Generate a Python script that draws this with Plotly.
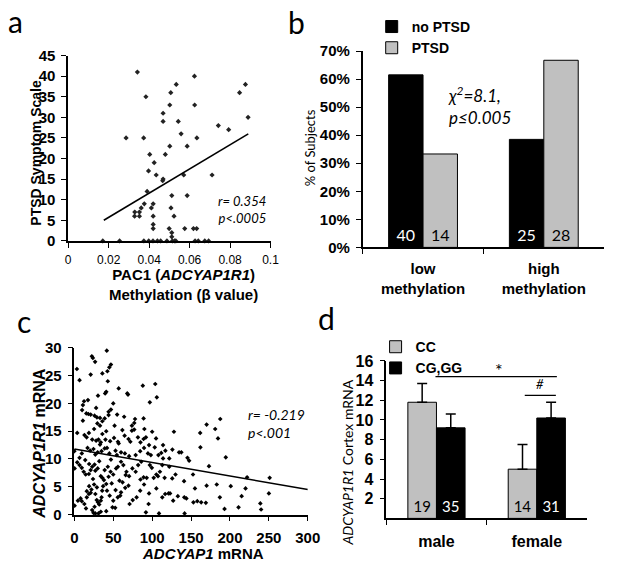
import plotly.graph_objects as go

W, H = 624, 572

# ---------------- Panel a: methylation vs PTSD symptom scale ----------------
a_x = [0.0342, 0.0624, 0.0534, 0.0876, 0.0507, 0.0847, 0.0384, 0.0502, 0.0625, 0.0469,
       0.0889, 0.0469, 0.0544, 0.0742, 0.0793, 0.0558, 0.0286, 0.0373, 0.0636, 0.0502,
       0.0588, 0.0403, 0.0480, 0.0425, 0.0397, 0.0435, 0.0571, 0.0711, 0.0469, 0.0467,
       0.0390, 0.0512, 0.0588, 0.0376, 0.0420, 0.0361, 0.0411, 0.0329, 0.0352, 0.0328,
       0.0352, 0.0420, 0.0420, 0.0420, 0.0508, 0.0523, 0.0499, 0.0512, 0.0512, 0.0576,
       0.0619, 0.0635,
       0.0171, 0.0254, 0.0374, 0.0398, 0.0419, 0.0441, 0.0457, 0.0488, 0.0515, 0.0526,
       0.0532, 0.0627, 0.0643, 0.0675, 0.0694]
a_y = [41, 40, 38, 38, 36, 36, 35, 33, 33, 31,
       30, 29, 29, 28, 27, 26, 25, 25, 25, 23,
       23, 21, 21, 19, 17, 16, 16, 16, 15, 14.6,
       12, 11, 11, 9, 9, 8, 8, 7, 7, 6,
       6, 6, 4, 3, 8, 6, 3, 2, 1, 3,
       3, 3,
       0, 0, 0, 0, 0, 0, 0, 0, 0, 0,
       0, 0, 0, 0, 0]
a_fit_x = [0.0176, 0.089]
a_fit_y = [5.0, 26.0]

# ---------------- Panel b: % of subjects by methylation ----------------
b_categories = ["low<br>methylation", "high<br>methylation"]
b_no_ptsd = [0.615, 0.385]
b_ptsd = [0.333, 0.667]
b_n_no_ptsd = ["40", "25"]
b_n_ptsd = ["14", "28"]

# ---------------- Panel c: ADCYAP1 vs ADCYAP1R1 mRNA ----------------
c_x = [3.3, 6.7, 22.5, 23.8, 26.7, 41.7, 47, 45, 42.5, 36, 21,
       43, 57, 41, 39.6, 30.4, 68, 69, 88, 104, 106, 97, 50, 12.5, 17.5, 11,
       10, 15.4, 18, 21, 26, 29, 33, 39, 44, 47, 55, 78, 89, 187.5, 170, 181, 184.6, 161.7,
       77, 74, 90, 100, 61.7, 51.7, 29.6, 33, 25.4, 18.7, 36, 41, 77, 74, 81.7, 89, 92, 105, 128,
       3.7, 13, 15.8, 23, 28, 31, 34, 40, 51, 56, 64.6, 69.6, 72, 85, 96, 103.3, 114, 117, 126,
       134.6, 137.5, 145.4, 147.5, 162, 194.6, 6.7, 9.6, 17, 20.4, 24.6, 27, 30, 35, 42, 45,
       52.9, 54.6, 60, 65, 70.4, 78.8, 84.6, 89.6, 94.6, 98.3, 108, 111.7, 114, 122, 0,
       0.4, 3.7, 6.7, 9.6, 12, 14.6, 18.7, 21, 23, 26, 30, 34, 39, 43, 46.6, 50, 53.7, 56, 60,
       63, 67, 70.4, 74.6, 78.8, 82, 86, 89, 93, 97, 99.6, 102, 105.4, 107.5, 110, 113, 116,
       122, 125.8, 130, 141, 152.5, 173, 201, 222, 251, 155, 170, 183, 187, 193, 211, 215,
       220, 250, 239, 240, 158, 163, 169, 141.7, 108.8, 92,
       0.4, 4.6, 9.6, 12.9, 16, 18.7, 22, 25.4, 27, 28.8, 30.4, 32, 34, 35, 35.8, 37, 24.6,
       27, 31, 34, 22.9, 42, 45.4, 50, 52.5, 55.8, 60, 65.4, 69.6, 71, 80, 84.6, 89.6, 95.4,
       96, 105.4, 113, 116.7, 121, 123, 127, 133, 141.3, 144, 153,
       14, 19, 27, 32, 38, 44, 48, 58, 62, 66, 19, 24, 29, 36, 41, 47, 53, 16, 21, 33,
       39, 46, 57, 11, 28, 36, 44, 64, 8, 15, 26, 41, 49, 59, 75, 85]
c_y = [26.2, 24.2, 28.5, 28.2, 27.5, 29.5, 27, 26.5, 25.8, 25.4, 25.2,
       24, 22.7, 22.1, 21.8, 21.4, 21.8, 21.6, 23.2, 23.5, 21.1, 20.2, 20, 20.4, 20.6, 19.7,
       18.8, 18.2, 18.1, 18, 17.8, 17.5, 17.4, 17.3, 18.5, 18.9, 18, 17.2, 17.3, 17.2, 16.2, 15.4, 13.7, 14.7,
       16.5, 16, 15.4, 14.9, 15.2, 16, 16.4, 16, 15.4, 14.7, 14.5, 15, 15.3, 15.1, 13.9, 13.6, 13.9, 13.7, 14.9,
       14.7, 14.3, 13.9, 13.5, 13.3, 13.5, 13, 13.5, 13.8, 13.1, 14.2, 13.6, 13.1, 13, 12.5, 12.1, 12.5, 11.5, 11.7,
       11.2, 11.2, 10.2, 9.7, 12.1, 10.3, 10.2, 11, 12, 11.5, 11.8, 10.8, 11.2, 11.4, 12, 11,
       11.5, 10.7, 11.2, 11, 10.5, 10.7, 11.4, 12, 11, 10.7, 10.7, 11.1, 10.1, 10.1, 11.4,
       8.3, 9.4, 8.9, 8.4, 7.7, 7.2, 7.3, 8, 8.6, 9, 8.3, 6.9, 8, 8.6, 7.7, 7.2, 8.3, 8.6, 9.5,
       8.9, 7.7, 6.9, 8.3, 7.7, 8.9, 9.5, 6.7, 6.6, 8.9, 8.4, 6.6, 7.2, 6.9, 7.7, 8.9, 6.6,
       8.6, 6.5, 7.2, 6, 7.2, 8.7, 5.1, 6.7, 6.6, 4.7, 5.2, 5.4, 3.1, 1, 1.3, 3.3,
       4.7, 3.8, 2, 0.9, 2.4, 2.2, 2.1, 0.2, 0.2, 0.4,
       1.6, 2.5, 2.4, 1.9, 3.1, 3.7, 4.5, 5.4, 3.7, 2.6, 2.2, 1.8, 2.5, 3.1, 4.3, 5.1, 0.3,
       0.2, 0.2, 0.5, 0.8, 4.3, 3.4, 2.5, 1.2, 3.1, 4, 4.8, 5.2, 1.9, 3.1, 4.3, 5.4, 1.9,
       3.8, 4.7, 3.1, 3.7, 3.8, 3.8, 2.5, 3.3, 3.1, 2.9, 2.2,
       9.8, 9.1, 7.9, 9.6, 6.2, 6.8, 5.6, 6.1, 5.8, 7.1, 5.1, 6.4, 4.9, 6.6, 5.5, 9.9, 4.4, 4.2, 3.9,
       12.6, 11.9, 13.2, 12.8, 16.9, 19.2, 16.8, 17.9, 17.6, 2.9, 1.1, 1.4, 0.6, 1.3, 3.4, 2.6, 6.3]
c_fit_x = [0, 300]
c_fit_y = [11.8, 4.5]

# ---------------- Panel d: cortex mRNA by genotype and sex ----------------
d_categories = ["male", "female"]
d_cc = [11.8, 5.0]
d_cc_err = [1.9, 2.5]
d_cggg = [9.2, 10.2]
d_cggg_err = [1.4, 1.6]
d_n_cc = ["19", "14"]
d_n_cggg = ["35", "31"]

GRAY = "#c0c0c0"
ARIAL = "Liberation Sans, Arial, sans-serif"
CALIBRI = "Lato, Carlito, sans-serif"


def px(x):
    return x / W


def py(y):
    return 1 - y / H


fig = go.Figure()

# Panel a
fig.add_trace(go.Scatter(x=a_x, y=a_y, mode="markers", xaxis="x", yaxis="y",
                         marker=dict(symbol="diamond", size=4, color="#222"),
                         showlegend=False, cliponaxis=False))
fig.add_trace(go.Scatter(x=a_fit_x, y=a_fit_y, mode="lines", xaxis="x", yaxis="y",
                         line=dict(color="black", width=1.6), showlegend=False))

# Panel b
fig.add_trace(go.Bar(x=b_categories, y=b_no_ptsd, name="no PTSD", xaxis="x2", yaxis="y2",
                     marker=dict(color="black", line=dict(color="black", width=1)),
                     text=b_n_no_ptsd, textposition="inside", insidetextanchor="start",
                     textangle=0, textfont=dict(family=CALIBRI, size=16, color="white"),
                     legend="legend"))
fig.add_trace(go.Bar(x=b_categories, y=b_ptsd, name="PTSD", xaxis="x2", yaxis="y2",
                     marker=dict(color=GRAY, line=dict(color="black", width=1)),
                     text=b_n_ptsd, textposition="inside", insidetextanchor="start",
                     textangle=0, textfont=dict(family=CALIBRI, size=16, color="black"),
                     legend="legend"))

# Panel c
fig.add_trace(go.Scatter(x=c_x, y=c_y, mode="markers", xaxis="x3", yaxis="y3",
                         marker=dict(symbol="diamond", size=3.6, color="black"),
                         showlegend=False, cliponaxis=False))
fig.add_trace(go.Scatter(x=c_fit_x, y=c_fit_y, mode="lines", xaxis="x3", yaxis="y3",
                         line=dict(color="black", width=1.6), showlegend=False))

# Panel d
fig.add_trace(go.Bar(x=d_categories, y=d_cc, name="CC", xaxis="x4", yaxis="y4",
                     marker=dict(color=GRAY, line=dict(color="black", width=1)),
                     error_y=dict(type="data", symmetric=False, array=d_cc_err,
                                  arrayminus=[0, 0], color="black", thickness=1.5, width=5),
                     text=d_n_cc, textposition="inside", insidetextanchor="start",
                     textangle=0, textfont=dict(family=CALIBRI, size=15, color="black"),
                     legend="legend2"))
fig.add_trace(go.Bar(x=d_categories, y=d_cggg, name="CG,GG", xaxis="x4", yaxis="y4",
                     marker=dict(color="black", line=dict(color="black", width=1)),
                     error_y=dict(type="data", symmetric=False, array=d_cggg_err,
                                  arrayminus=[0, 0], color="black", thickness=1.5, width=5),
                     text=d_n_cggg, textposition="inside", insidetextanchor="start",
                     textangle=0, textfont=dict(family=CALIBRI, size=15, color="white"),
                     legend="legend2"))

axis_common = dict(showline=True, linecolor="black", linewidth=1.5, showgrid=False,
                   zeroline=False, ticks="outside", tickcolor="black", ticklen=5)

bold_tick = dict(family=ARIAL, size=15, color="black", weight="bold")

fig.update_layout(
    width=W, height=H, margin=dict(l=0, r=0, t=0, b=0),
    paper_bgcolor="white", plot_bgcolor="white",
    barmode="group", bargap=0.43,
    xaxis=dict(domain=[px(66), px(274)], anchor="y", range=[0, 0.1], dtick=0.02,
               tickfont=dict(family=ARIAL, size=12, color="black"), ticklabelstandoff=2,
               **axis_common),
    yaxis=dict(domain=[py(239), py(48)], anchor="x", range=[0, 45], dtick=5,
               tickfont=bold_tick, ticklabelstandoff=3, **axis_common),
    xaxis2=dict(domain=[px(368.7), px(617)], anchor="y2", tickson="boundaries",
                tickfont=dict(family=ARIAL, size=15, color="black", weight="bold"),
                ticklabelstandoff=7, **axis_common),
    yaxis2=dict(domain=[py(245.7), py(43.3)], anchor="x2", range=[0, 0.7], dtick=0.1,
                tickformat=".0%", tickfont=bold_tick, ticklabelstandoff=3, **axis_common),
    xaxis3=dict(domain=[px(72.3), px(312.3)], anchor="y3", range=[0, 300], dtick=50,
                tickfont=bold_tick, ticklabelstandoff=4, **axis_common),
    yaxis3=dict(domain=[py(521), py(349.3)], anchor="x3", range=[0, 30], dtick=5,
                tickfont=bold_tick, ticklabelstandoff=3, **axis_common),
    xaxis4=dict(domain=[px(393), px(599.3)], anchor="y4", tickson="boundaries",
                tickfont=dict(family=ARIAL, size=16, color="black", weight="bold"),
                ticklabelstandoff=8, **axis_common),
    yaxis4=dict(domain=[py(525), py(362.7)], anchor="x4", range=[0, 16],
                tickvals=[2, 4, 6, 8, 10, 12, 14, 16],
                tickfont=dict(family=ARIAL, size=16, color="black", weight="bold"),
                ticklabelstandoff=3, **axis_common),
    legend=dict(x=px(378), y=py(2), xanchor="left", yanchor="top",
                font=dict(family=ARIAL, size=14, color="black", weight="bold"),
                bgcolor="rgba(0,0,0,0)", itemwidth=30, tracegroupgap=0),
    legend2=dict(x=px(382), y=py(332), xanchor="left", yanchor="top",
                 font=dict(family=ARIAL, size=14, color="black", weight="bold"),
                 bgcolor="rgba(0,0,0,0)", itemwidth=30, tracegroupgap=0),
)

ann = []


def paper_text(text, x, y, size, family, xanchor="center", yanchor="middle", angle=0,
               weight="normal", align="center"):
    ann.append(dict(text=text, x=px(x), y=py(y), xref="paper", yref="paper",
                    xanchor=xanchor, yanchor=yanchor, textangle=angle, showarrow=False,
                    align=align,
                    font=dict(family=family, size=size, color="black", weight=weight)))


# panel letters
paper_text("a", 2, 12, 30, CALIBRI, xanchor="left")
paper_text("b", 290, 13, 30, CALIBRI, xanchor="left")
paper_text("c", 11, 322, 30, CALIBRI, xanchor="left")
paper_text("d", 321, 318, 30, CALIBRI, xanchor="left")

# axis titles
paper_text("PTSD Symptom Scale", 33, 148, 14, ARIAL, angle=-90, weight="bold")
paper_text("PAC1 (<i>ADCYAP1R1</i>)<br>Methylation (β value)", 185, 284, 15, ARIAL,
           weight="bold")
paper_text("% of Subjects", 314, 143, 13, CALIBRI, angle=-90)
paper_text("<i>ADCYAP1R1</i> mRNA", 37, 447, 16, ARIAL, angle=-90, weight="bold")
paper_text("<i>ADCYAP1</i> mRNA", 205, 561, 15, ARIAL, weight="bold")
paper_text("<i>ADCYAP1R1</i> Cortex mRNA", 353, 467, 14, CALIBRI, angle=-90)

# stats text
paper_text("<i>r= 0.354<br>p<.0005</i>", 271, 207, 13, CALIBRI, xanchor="right",
           align="right")
paper_text("<i>χ<sup>2</sup>=8.1,<br>p≤0.005</i>", 454, 99, 17, CALIBRI, xanchor="left",
           align="left")
paper_text("<i>r= -0.219<br>p<.001</i>", 249, 427, 14, CALIBRI, xanchor="left",
           align="left")

# significance marks in panel d
ann.append(dict(text="*", x=0.62, y=15.1, xref="x4", yref="y4", showarrow=False,
                yanchor="middle", font=dict(family=CALIBRI, size=18, color="black")))
ann.append(dict(text="<i>#</i>", x=1.03, y=12.6, xref="x4", yref="y4", showarrow=False,
                yanchor="bottom", font=dict(family=CALIBRI, size=13, color="black")))
fig.update_layout(annotations=ann)

fig.add_shape(type="line", xref="x4", yref="y4", x0=-0.01, x1=1.2, y0=14.4, y1=14.4,
              line=dict(color="black", width=1.3))
fig.add_shape(type="line", xref="x4", yref="y4", x0=0.88, x1=1.19, y0=12.5, y1=12.5,
              line=dict(color="black", width=1.3))

fig.write_html("out.html", config={"displayModeBar": False},
               post_script="document.body.style.margin='0';document.body.style.overflow='hidden';")
